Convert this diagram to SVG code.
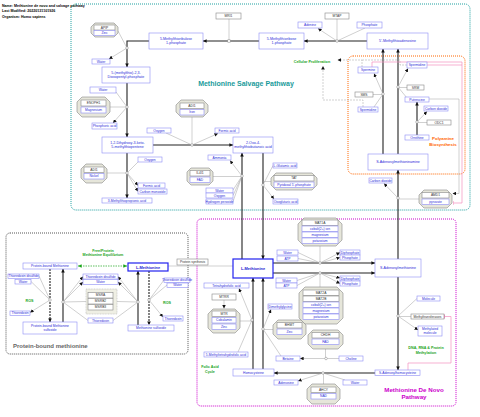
<svg xmlns="http://www.w3.org/2000/svg" width="480" height="417" viewBox="0 0 480 417">
<defs>
<style>
text{font-family:"Liberation Sans",Arial,sans-serif;text-anchor:middle;dominant-baseline:central}
.m rect{fill:#fff;stroke:#8c8cf5;stroke-width:0.6}
.m text{fill:#2b2bd9;font-size:3.3px}
.g rect{fill:#fff;stroke:#888;stroke-width:0.6}
.g text{fill:#333;font-size:3.3px}
.c polygon{fill:#e6e6da;stroke:#888;stroke-width:0.6}
.big text{font-size:3.6px}
.lm rect{stroke:#2222ee;stroke-width:1.2}
.lm text{font-weight:bold;font-size:3.9px;fill:#1a1ad0}
.r{fill:none;stroke:#222;stroke-width:1.1}
.s{fill:none;stroke:#a0a0a0;stroke-width:0.5}
.d{stroke-dasharray:2 1}
.gl{fill:#1aa51a;font-weight:bold;font-size:3.7px}
.anc{fill:#fff;stroke:#888;stroke-width:0.5}
.box{fill:none;stroke-width:1;stroke-dasharray:1 1}
.hd{text-anchor:start;font-weight:bold;font-size:3.6px;fill:#000}
</style>
<marker id="a" viewBox="0 0 6 6" refX="6" refY="3" markerWidth="3.6" markerHeight="3.6" markerUnits="userSpaceOnUse" orient="auto"><path d="M0,0L6,3L0,6z" fill="#111"/></marker>
<marker id="ga" viewBox="0 0 6 6" refX="6" refY="3" markerWidth="3.6" markerHeight="3.6" markerUnits="userSpaceOnUse" orient="auto-start-reverse"><path d="M0,0L6,3L0,6z" fill="#1aa51a"/></marker>
<marker id="t" viewBox="0 0 2 8" refX="1" refY="4" markerWidth="1" markerHeight="6" markerUnits="userSpaceOnUse" orient="auto"><rect width="2" height="8" fill="#f48fbf"/></marker>
</defs>
<rect width="480" height="417" fill="#fff"/>

<!-- header -->
<text class="hd" x="2" y="5.5">Name: Methionine de novo and salvage pathway</text>
<text class="hd" x="2" y="11">Last Modified: 20220131101926</text>
<text class="hd" x="2" y="16.5">Organism: Homo sapiens</text>

<!-- group boxes -->
<g id="salvage-box"><rect class="box" x="71" y="4" width="399" height="206" rx="5" stroke="#1fa0a0"/>
<text x="246" y="83" font-size="7" font-weight="bold" fill="#1a9b9b">Methionine Salvage Pathway</text></g>
<g id="denovo-box"><rect class="box" x="197" y="219" width="259" height="187" rx="4" stroke="#cc00cc"/>
<text x="414" y="389.5" font-size="6.2" font-weight="bold" fill="#cc00cc">Methionine De Novo</text>
<text x="414" y="396.5" font-size="6.2" font-weight="bold" fill="#cc00cc">Pathway</text></g>
<g id="polyamine-box"><rect class="box" x="348" y="56" width="117" height="118" rx="5" stroke="#ff6600"/>
<text x="443" y="138.5" font-size="4.4" font-weight="bold" fill="#ff6600">Polyamine</text>
<text x="443" y="144.5" font-size="4.4" font-weight="bold" fill="#ff6600">Biosynthesis</text></g>
<g id="protein-box"><rect class="box" x="6" y="233" width="182" height="121" rx="4" stroke="#555"/>
<text x="13" y="346" font-size="6" font-weight="bold" fill="#666" style="text-anchor:start">Protein-bound methionine</text></g>

<!-- labels -->
<text class="gl" x="312" y="61.5">Cellular Proliferation</text>
<text class="gl" x="103" y="250.5">Free/Protein</text>
<text class="gl" x="103" y="254.8">Methionine Equilibrium</text>
<text class="gl" x="29.5" y="301">ROS</text>
<text class="gl" x="167" y="302.5">ROS</text>
<text class="gl" x="210" y="366.5">Folic Acid</text>
<text class="gl" x="210" y="371.5">Cycle</text>
<text class="gl" x="426" y="347.5">DNA, RNA &amp; Protein</text>
<text class="gl" x="426" y="352.5">Methylation</text>

<!-- connectors -->
<g id="connectors">
<g class="r" marker-end="url(#a)">
<path d="M367,41H304"/><path d="M259,41H203"/><path d="M149,41H127V67"/><path d="M127,83V137"/>
<path d="M153,145H233"/><path d="M127,153V198"/><path d="M242,259V153"/><path d="M263,153V259"/>
<path d="M383,154V49"/><path d="M398,154V49"/><path d="M417,135V102"/><path d="M398,259V170"/>
<path d="M273,263H375"/><path d="M273,273H375"/><path d="M398,277V370"/><path d="M375,373H274"/>
<path d="M253,369V278"/><path d="M263,369V278"/>
<path d="M63,322V269"/><path d="M138,325V271"/>
<path class="d" d="M50,269V322"/><path class="d" d="M149,271V325"/>
</g>
<path d="M78,266H127" fill="none" stroke="#1aa51a" stroke-width="0.7" stroke-dasharray="1.5 1" marker-start="url(#ga)" marker-end="url(#ga)"/>
<path class="s" d="M168,266H233"/>
<g class="s">
<path d="M337,19V41"/><path d="M365,28L337,41"/>
<path d="M229,19V41"/>
<path d="M118,31L127,48"/>
<path d="M110,107H127"/><path d="M116,92L127,107"/>
<path d="M192,117V145"/><path d="M166,133L192,145"/>
<path d="M107,173H127"/><path d="M139,161L127,173"/>
<path d="M213,176.5H242"/><path d="M233,190L242,176"/><path d="M233,195.5L242,176"/><path d="M233,201.5L242,176"/>
<path d="M273,165.5L263,185"/><path d="M271,181.5H263"/>
<path d="M373,94.5H383"/><path d="M374,107L383,94"/>
<path d="M407,87.5H398"/><path d="M407,98L398,87"/>
<path d="M427,122.5H417"/>
<path d="M419,199H398"/>
<path d="M320,246V263"/><path d="M298,252.5L320,263"/><path d="M298,258.5L320,263"/>
<path d="M320,287V273"/><path d="M297,280.5L320,273"/><path d="M297,285.5L320,273"/>
<path d="M411,316.5H398"/><path d="M417,298.5L398,316"/>
<path d="M323.5,384V373"/><path d="M345,380L323,373"/>
<path d="M240,321H252"/><path d="M238,352L252,320"/>
<path d="M273,329.5H263"/><path d="M281,356L263,329"/>
<path d="M325.5,349V358"/>
<path d="M39,276L50,300"/><path d="M31,281.5L50,300"/>
<path d="M88,320.5L63,302"/><path d="M86,301.5L63,302"/>
<path d="M113,320.5L138,302"/><path d="M117,301.5L138,302"/>
<path d="M164,280L149,300"/><path d="M167,285L149,300"/>
</g>
<g class="s" marker-end="url(#a)">
<path d="M337,41L318,28.5"/>
<path d="M127,48L109,59"/>
<path d="M127,107L113,123"/>
<path d="M192,145L218,133.5"/>
<path d="M127,173L138,185.5"/><path d="M127,173L138,191.5"/>
<path d="M242,176L230,160.5"/>
<path d="M263,185L274,199"/>
<path d="M383,94L374,73.5"/>
<path d="M398,87L408,68.5"/>
<path d="M417,122L427,111.5"/>
<path d="M398,198L384,183.5"/>
<path d="M320,263L340,252.5"/><path d="M320,263L340,257.5"/>
<path d="M320,273L340,278"/><path d="M320,273L340,283.5"/>
<path d="M398,316L418,330"/>
<path d="M323,373L298,381"/>
<path d="M252,320L239,288.5"/>
<path d="M224,300V308.5"/>
<path d="M263,329L271,309.5"/>
<path d="M339,358.5H300"/>
<path d="M50,300L30,312.5"/>
<path d="M63,302L83,276.5"/><path d="M63,302L83,282"/>
<path d="M138,302L118,276.5"/><path d="M138,302L118,282"/>
<path d="M149,300L163,317"/>
<path d="M429,99H459V193.5H452.5"/>
</g>
<g class="s d" stroke="#aaa" marker-end="url(#a)">
<path d="M362,67V60H337.5"/>
<path d="M363,107V100H323V66"/>
</g>
<path class="s d" d="M407,65H400V60H362"/>
<g fill="none" stroke="#f48fbf" stroke-width="0.7">
<path d="M372,67V62H462V203H453" marker-end="url(#t)"/>
<path d="M427,65H462"/>
<path d="M408,370V363H451V316.5H444.5" marker-end="url(#t)"/>
</g>
<g class="anc">
<circle cx="337" cy="41" r="1.3"/><rect x="227.8" y="39.8" width="2.4" height="2.4"/>
<circle cx="127" cy="48" r="1.3"/><circle cx="127" cy="107" r="1.3"/><circle cx="192" cy="145" r="1.3"/>
<circle cx="127" cy="173" r="1.3"/><circle cx="242" cy="176" r="1.3"/><circle cx="263" cy="185" r="1.3"/>
<circle cx="383" cy="94" r="1.3"/><circle cx="398" cy="87" r="1.3"/><circle cx="417" cy="122" r="1.3"/>
<circle cx="398" cy="198" r="1.3"/><circle cx="320" cy="263" r="1.3"/><circle cx="320" cy="273" r="1.3"/>
<circle cx="398" cy="316" r="1.3"/><circle cx="323" cy="373" r="1.3"/><circle cx="252" cy="320" r="1.3"/>
<circle cx="263" cy="329" r="1.3"/><circle cx="326" cy="358.5" r="1.3"/>
<circle cx="50" cy="300" r="1.3"/><circle cx="63" cy="302" r="1.3"/><circle cx="138" cy="302" r="1.3"/><circle cx="149" cy="300" r="1.3"/>
</g>
</g>

<!-- metabolites -->
<g id="mtru1p" class="m big"><rect x="149" y="33" width="54" height="16"/><text x="176" y="38.8">5-Methylthioribulose</text><text x="176" y="43.2">1-phosphate</text></g>
<g id="mtr1p" class="m big"><rect x="259" y="33" width="45" height="16"/><text x="281.5" y="38.8">5-Methylthioribose</text><text x="281.5" y="43.2">1-phosphate</text></g>
<g id="mta" class="m big"><rect x="367" y="33" width="61" height="16"/><text x="397.5" y="41">5'-Methylthioadenosine</text></g>
<g id="adenine" class="m"><rect x="298" y="22" width="24" height="6"/><text x="310" y="25">Adenine</text></g>
<g id="phosphate1" class="m"><rect x="357" y="22" width="25" height="6"/><text x="369.5" y="25">Phosphate</text></g>
<g id="water1" class="m"><rect x="92" y="59" width="18" height="5"/><text x="101" y="61.5">Water</text></g>
<g id="mtdp" class="m big"><rect x="102" y="67" width="48" height="16"/><text x="126" y="72.8">5-(methylthio)-2,3-</text><text x="126" y="77.2">Dioxopentyl-phosphate</text></g>
<g id="water2" class="m"><rect x="90" y="87" width="26" height="6"/><text x="103" y="90">Water</text></g>
<g id="phosacid" class="m"><rect x="92" y="123" width="25" height="6"/><text x="104.5" y="126">Phosphoric acid</text></g>
<g id="dhk" class="m big"><rect x="102" y="137" width="51" height="16"/><text x="127.5" y="142.8">1,2-Dihydroxy-3-keto-</text><text x="127.5" y="147.2">5-methylthiopentene</text></g>
<g id="oxygen1" class="m"><rect x="147" y="128" width="24" height="5"/><text x="159" y="130.5">Oxygen</text></g>
<g id="formic1" class="m"><rect x="215" y="128" width="24" height="5"/><text x="227" y="130.5">Formic acid</text></g>
<g id="oxobut" class="m big"><rect x="233" y="137" width="40" height="16"/><text x="253" y="142.8">2-Oxo-4-</text><text x="253" y="147.2">methylthiobutanoic acid</text></g>
<g id="oxygen2" class="m"><rect x="138" y="157" width="24" height="5"/><text x="150" y="159.5">Oxygen</text></g>
<g id="formic2" class="m"><rect x="138" y="183" width="27" height="5"/><text x="151.5" y="185.5">Formic acid</text></g>
<g id="co" class="m"><rect x="138" y="189" width="29" height="5"/><text x="152.5" y="191.5">Carbon monoxide</text></g>
<g id="mtpa" class="m"><rect x="102" y="198" width="50" height="5"/><text x="127" y="200.5">3-Methylthiopropionic acid</text></g>
<g id="ammonia" class="m"><rect x="208" y="155" width="23" height="5"/><text x="219.5" y="157.5">Ammonia</text></g>
<g id="water3" class="m"><rect x="206" y="188" width="27" height="5"/><text x="219.5" y="190.5">Water</text></g>
<g id="oxygen3" class="m"><rect x="206" y="193" width="27" height="5"/><text x="219.5" y="195.5">Oxygen</text></g>
<g id="h2o2" class="m"><rect x="206" y="199" width="27" height="5"/><text x="219.5" y="201.5">Hydrogen peroxide</text></g>
<g id="glu" class="m"><rect x="273" y="163" width="24" height="5"/><text x="285" y="165.5">L-Glutamic acid</text></g>
<g id="oxoglu" class="m"><rect x="273" y="199" width="25" height="5"/><text x="285.5" y="201.5">Oxoglutaric acid</text></g>
<g id="spermine" class="m"><rect x="358" y="67" width="20" height="6"/><text x="368" y="70">Spermine</text></g>
<g id="spermidine1" class="m"><rect x="407" y="62" width="20" height="6"/><text x="417" y="65">Spermidine</text></g>
<g id="spermidine2" class="m"><rect x="358" y="107" width="20" height="5"/><text x="368" y="109.5">Spermidine</text></g>
<g id="putrescine" class="m"><rect x="405" y="97" width="24" height="5"/><text x="417" y="99.5">Putrescine</text></g>
<g id="co2a" class="m"><rect x="424" y="106" width="24" height="5"/><text x="436" y="108.5">Carbon dioxide</text></g>
<g id="ornithine" class="m"><rect x="405" y="135" width="24" height="5"/><text x="417" y="137.5">Ornithine</text></g>
<g id="dcsam" class="m big"><rect x="368" y="154" width="60" height="16"/><text x="398" y="162">S-Adenosylmethioninamine</text></g>
<g id="co2b" class="m"><rect x="369" y="178" width="23" height="5"/><text x="380.5" y="180.5">Carbon dioxide</text></g>
<g id="lmet" class="m lm"><rect x="233" y="259" width="40" height="19"/><text x="253" y="268.5">L-Methionine</text></g>
<g id="sam" class="m big"><rect x="375" y="259" width="46" height="18"/><text x="398" y="268">S-Adenosylmethionine</text></g>
<g id="water4" class="m"><rect x="277" y="250" width="21" height="5"/><text x="287.5" y="252.5">Water</text></g>
<g id="atp1" class="m"><rect x="277" y="256" width="21" height="5"/><text x="287.5" y="258.5">ATP</text></g>
<g id="dp1" class="m"><rect x="340" y="250" width="20" height="5"/><text x="350" y="252.5">Diphosphate</text></g>
<g id="p1" class="m"><rect x="340" y="255" width="20" height="5"/><text x="350" y="257.5">Phosphate</text></g>
<g id="water5" class="m"><rect x="276" y="278" width="21" height="5"/><text x="286.5" y="280.5">Water</text></g>
<g id="atp2" class="m"><rect x="276" y="283" width="21" height="5"/><text x="286.5" y="285.5">ATP</text></g>
<g id="dp2" class="m"><rect x="340" y="276" width="20" height="5"/><text x="350" y="278.5">Diphosphate</text></g>
<g id="p2" class="m"><rect x="340" y="281" width="20" height="5"/><text x="350" y="283.5">Phosphate</text></g>
<g id="thf" class="m"><rect x="204" y="283" width="45" height="5"/><text x="226.5" y="285.5">Tetrahydrofolic acid</text></g>
<g id="dmg" class="m"><rect x="268" y="304" width="24" height="5"/><text x="280" y="306.5">Dimethylglycine</text></g>
<g id="mthf" class="m"><rect x="204" y="352" width="44" height="5"/><text x="226" y="354.5">5-Methyltetrahydrofolic acid</text></g>
<g id="betaine" class="m"><rect x="276" y="356" width="24" height="5"/><text x="288" y="358.5">Betaine</text></g>
<g id="choline" class="m"><rect x="339" y="356" width="24" height="5"/><text x="351" y="358.5">Choline</text></g>
<g id="hcy" class="m"><rect x="233" y="369" width="41" height="7"/><text x="253.5" y="372.5">Homocysteine</text></g>
<g id="sah" class="m"><rect x="375" y="370" width="45" height="5.5"/><text x="397.5" y="372.8">S-Adenosylhomocysteine</text></g>
<g id="adenosine" class="m"><rect x="274" y="380" width="24" height="5"/><text x="286" y="382.5">Adenosine</text></g>
<g id="water6" class="m"><rect x="343" y="380" width="24" height="5"/><text x="355" y="382.5">Water</text></g>
<g id="molecule" class="m"><rect x="417" y="296" width="23" height="5"/><text x="428.5" y="298.5">Molecule</text></g>
<g id="methmol" class="m"><rect x="418" y="326" width="24" height="10"/><text x="430" y="329">Methylated</text><text x="430" y="333">molecule</text></g>
<g id="pbmet" class="m"><rect x="23" y="263" width="54" height="6"/><text x="50" y="266">Protein-bound Methionine</text></g>
<g id="pbmso" class="m"><rect x="23" y="322" width="54" height="12"/><text x="50" y="326">Protein-bound Methionine</text><text x="50" y="330">sulfoxide</text></g>
<g id="lmet2" class="m lm"><rect x="128" y="263" width="40" height="8"/><text x="148" y="267">L-Methionine</text></g>
<g id="mso" class="m"><rect x="128" y="325" width="46" height="6"/><text x="151" y="328">Methionine sulfoxide</text></g>
<g id="trxss1" class="m"><rect x="8" y="274" width="31" height="4.5"/><text x="23.5" y="276.3">Thioredoxin disulfide</text></g>
<g id="water7" class="m"><rect x="15" y="279.5" width="16" height="4.5"/><text x="23" y="281.8">Water</text></g>
<g id="trx1" class="m"><rect x="10" y="311" width="20" height="4.5"/><text x="20" y="313.3">Thioredoxin</text></g>
<g id="trxss2" class="m"><rect x="83" y="274" width="35" height="5"/><text x="100.5" y="276.5">Thioredoxin disulfide</text></g>
<g id="water8" class="m"><rect x="83" y="279.5" width="35" height="5"/><text x="100.5" y="282">Water</text></g>
<g id="trx2" class="m"><rect x="88" y="318" width="25" height="5"/><text x="100.5" y="320.5">Thioredoxin</text></g>
<g id="trxss3" class="m"><rect x="164" y="278" width="26" height="4.5"/><text x="177" y="280.3">Thioredoxin disulfide</text></g>
<g id="water9" class="m"><rect x="167" y="283" width="21" height="4.5"/><text x="177.5" y="285.3">Water</text></g>
<g id="trx3" class="m"><rect x="163" y="316" width="20" height="5"/><text x="173" y="318.5">Thioredoxin</text></g>

<!-- genes -->
<g id="mri1" class="g"><rect x="216" y="13" width="25" height="6"/><text x="228.5" y="16">MRI1</text></g>
<g id="mtap" class="g"><rect x="325" y="13" width="24" height="6"/><text x="337" y="16">MTAP</text></g>
<g id="sms" class="g"><rect x="355" y="92" width="18" height="5"/><text x="364" y="94.5">SMS</text></g>
<g id="srm" class="g"><rect x="407" y="85" width="17" height="5"/><text x="415.5" y="87.5">SRM</text></g>
<g id="odc1" class="g"><rect x="427" y="120" width="24" height="5"/><text x="439" y="122.5">ODC1</text></g>
<g id="methyltransferases" class="g"><rect x="411" y="314" width="33" height="5"/><text x="427.5" y="316.5">Methyltransferases</text></g>
<g id="mtrr" class="g"><rect x="212" y="294" width="24" height="6"/><text x="224" y="297">MTRR</text></g>
<g id="protsynth" class="g"><rect x="177" y="259" width="31" height="6"/><text x="192.5" y="262">Protein synthesis</text></g>

<!-- complexes -->
<g id="apip" class="c"><polygon points="95,23 114,23 118,27 118,33 114,37 95,37 91,33 91,27"/>
<g class="g"><rect x="94" y="25" width="21" height="5"/><text x="104.5" y="27.5">APIP</text></g>
<g class="m"><rect x="94" y="30.5" width="21" height="5"/><text x="104.5" y="33">Zinc</text></g></g>
<g id="enoph1" class="c"><polygon points="82,97 105,97 110,102 110,112 105,117 82,117 77,112 77,102"/>
<g class="g"><rect x="81" y="100" width="25" height="6"/><text x="93.5" y="103">ENOPH1</text></g>
<g class="m"><rect x="81" y="107" width="25" height="6"/><text x="93.5" y="110">Magnesium</text></g></g>
<g id="adi1-iron" class="c"><polygon points="181,100 203,100 208,105 208,112 203,117 181,117 176,112 176,105"/>
<g class="g"><rect x="180" y="103" width="24" height="5.5"/><text x="192" y="105.75">ADI1</text></g>
<g class="m"><rect x="180" y="109.5" width="24" height="5.5"/><text x="192" y="112.25">Iron</text></g></g>
<g id="adi1-nickel" class="c"><polygon points="86,164 102,164 107,169 107,178 102,183 86,183 81,178 81,169"/>
<g class="g"><rect x="84" y="167" width="20" height="5.5"/><text x="94" y="169.75">ADI1</text></g>
<g class="m"><rect x="84" y="173.5" width="20" height="5.5"/><text x="94" y="176.25">Nickel</text></g></g>
<g id="il4i1" class="c"><polygon points="191,168 209,168 213,172 213,181 209,185 191,185 187,181 187,172"/>
<g class="g"><rect x="190" y="170.5" width="20" height="5.5"/><text x="200" y="173.25">IL4I1</text></g>
<g class="m"><rect x="190" y="177" width="20" height="5.5"/><text x="200" y="179.75">FAD</text></g></g>
<g id="tat" class="c"><polygon points="276,173 312,173 317,178 317,185 312,190 276,190 271,185 271,178"/>
<g class="g"><rect x="274" y="175.5" width="40" height="5.5"/><text x="294" y="178.25">TAT</text></g>
<g class="m"><rect x="274" y="182" width="40" height="5.5"/><text x="294" y="184.75">Pyridoxal 5'-phosphate</text></g></g>
<g id="amd1" class="c"><polygon points="424,190 447,190 452,195 452,203 447,208 424,208 419,203 419,195"/>
<g class="g"><rect x="422" y="192.5" width="27" height="5.5"/><text x="435.5" y="195.25">AMD1</text></g>
<g class="m"><rect x="422" y="199" width="27" height="5.5"/><text x="435.5" y="201.75">pyruvate</text></g></g>
<g id="mat1a" class="c"><polygon points="304,218 336,218 342,224 342,240 336,246 304,246 298,240 298,224"/>
<g class="g"><rect x="302" y="220" width="36" height="5.5"/><text x="320" y="222.75">MAT1A</text></g>
<g class="m"><rect x="302" y="226" width="36" height="5.5"/><text x="320" y="228.75">cobalt(2+) ion</text>
<rect x="302" y="232" width="36" height="5.5"/><text x="320" y="234.75">magnesium</text>
<rect x="302" y="238" width="36" height="5.5"/><text x="320" y="240.75">potassium</text></g></g>
<g id="mat2" class="c"><polygon points="305,287 337,287 343,293 343,318 337,324 305,324 299,318 299,293"/>
<g class="g"><rect x="303" y="290" width="36" height="5.5"/><text x="321" y="292.75">MAT2A</text>
<rect x="303" y="296" width="36" height="5.5"/><text x="321" y="298.75">MAT2B</text></g>
<g class="m"><rect x="303" y="302" width="36" height="5.5"/><text x="321" y="304.75">cobalt(2+) ion</text>
<rect x="303" y="308" width="36" height="5.5"/><text x="321" y="310.75">magnesium</text>
<rect x="303" y="314" width="36" height="5.5"/><text x="321" y="316.75">potassium</text></g></g>
<g id="mtr" class="c"><polygon points="213,309 235,309 240,314 240,328 235,333 213,333 208,328 208,314"/>
<g class="g"><rect x="212" y="311" width="24" height="5.5"/><text x="224" y="313.75">MTR</text></g>
<g class="m"><rect x="212" y="317.5" width="24" height="5.5"/><text x="224" y="320.25">Cobalamin</text>
<rect x="212" y="324" width="24" height="5.5"/><text x="224" y="326.75">Zinc</text></g></g>
<g id="bhmt" class="c"><polygon points="278,320 301,320 306,325 306,334 301,339 278,339 273,334 273,325"/>
<g class="g"><rect x="277" y="322.5" width="25" height="5.5"/><text x="289.5" y="325.25">BHMT</text></g>
<g class="m"><rect x="277" y="329" width="25" height="5.5"/><text x="289.5" y="331.75">Zinc</text></g></g>
<g id="chdh" class="c"><polygon points="313,330 338,330 343,335 343,344 338,349 313,349 308,344 308,335"/>
<g class="g"><rect x="312" y="332.5" width="27" height="5.5"/><text x="325.5" y="335.25">CHDH</text></g>
<g class="m"><rect x="312" y="339" width="27" height="5.5"/><text x="325.5" y="341.75">FAD</text></g></g>
<g id="ahcy" class="c"><polygon points="312,384 335,384 340,389 340,399 335,404 312,404 307,399 307,389"/>
<g class="g"><rect x="311" y="387" width="25" height="5.5"/><text x="323.5" y="389.75">AHCY</text></g>
<g class="m"><rect x="311" y="393.5" width="25" height="5.5"/><text x="323.5" y="396.25">NAD</text></g></g>
<g id="msr"><rect x="86" y="289" width="31" height="25" fill="#efefe4" stroke="#bbb" stroke-width="0.6" stroke-dasharray="1 0.6"/>
<g class="g"><rect x="88" y="292.5" width="25" height="5.5"/><text x="100.5" y="295.25">MSRA</text>
<rect x="88" y="298.5" width="25" height="5.5"/><text x="100.5" y="301.25">MSRB2</text>
<rect x="88" y="304.5" width="25" height="5.5"/><text x="100.5" y="307.25">MSRB3</text></g></g>
</svg>
